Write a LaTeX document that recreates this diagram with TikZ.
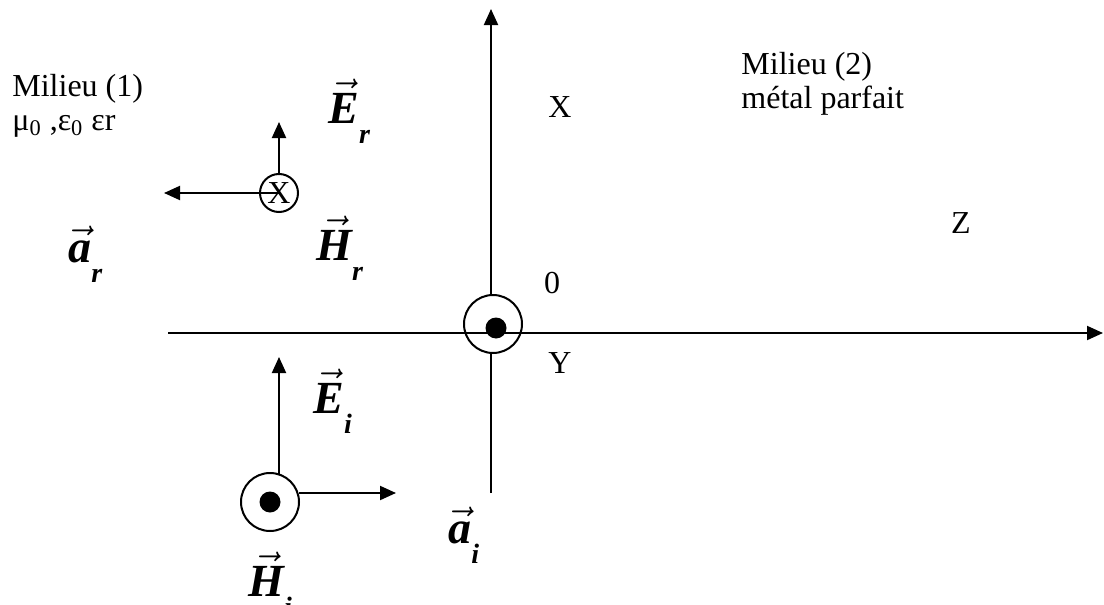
\documentclass[tikz,border=0pt]{standalone}
\usepackage{amsmath}
\usepackage{fontspec}
\setmainfont{Liberation Serif}
\usetikzlibrary{arrows.meta}

% vecteur en gras italique avec indice
\newcommand{\champ}[2]{$\vec{\hbox{#1}}$\raisebox{-10pt}{\fontsize{14}{14}\selectfont #2}}

\begin{document}
\begin{tikzpicture}[
  x=0.5pt, y=-0.5pt,
  fl/.style={line width=1pt, -{Triangle[length=8pt, width=7pt]}},
  trait/.style={line width=1pt},
  txt/.style={font=\fontsize{16}{18}\selectfont, inner sep=0pt},
  vlab/.style={font=\fontsize{23}{25}\selectfont\bfseries\itshape, inner sep=0pt, anchor=base west},
  anneau/.style={circle, draw, line width=1pt, inner sep=0pt},
  point/.style={circle, fill, inner sep=0pt, minimum size=10.5pt},
]
\useasboundingbox (0,0) rectangle (1104,605);

% --- Axes ---
\node[anneau, minimum size=29pt] (o) at (493,324) {};
\node[point] (od) at (496,328) {};
\coordinate (zg) at (168,333);
\coordinate (zd) at (1103,333);
\coordinate (xb) at (491,493);
\coordinate (xh) at (491,9);
\draw[fl] (zg) -- (zd);
\draw[trait] (xb) -- (xb |- o.south);
\draw[fl] (xb |- o.north) -- (xh);

\node[txt, anchor=base] (lx) at (560,117) {X};
\node[txt, anchor=base] (l0) at (552,293) {0};
\node[txt, anchor=base] (ly) at (560,373) {Y};
\node[txt, anchor=base] (lz) at (961,233) {Z};

% --- Milieux ---
\node[txt, anchor=base west] (m1) at (12,97) {Milieu (1)};
\node[txt, anchor=base west] (mu) at (12,130) {μ\textsubscript{0} ,ε\textsubscript{0} εr};
\node[txt, anchor=base west] (m2) at (741,75) {Milieu (2)};
\node[txt, anchor=base west] (mp) at (741,108) {métal parfait};

% --- Onde reflechie ---
\node[anneau, minimum size=19pt, txt] (hr) at (279,193) {X};
\coordinate (er) at (279,122);
\coordinate (ar) at (164,193);
\draw[fl] (hr.north) -- (er);
\draw[fl] (hr.center) -- (ar);

\node[vlab] (ler) at (328,123) {\champ{E}{r}};
\node[vlab] (lhr) at (316,260) {\champ{H}{r}};
\node[vlab] (lar) at (68,262) {\champ{a}{r}};

% --- Onde incidente ---
\node[anneau, minimum size=29pt] (hi) at (270,502) {};
\node[point] (hid) at (270,502) {};
\coordinate (ei0) at (279,474);
\coordinate (ei) at (279,357);
\coordinate (ai0) at (299,493);
\coordinate (ai) at (396,493);
\draw[fl] (ei0) -- (ei);
\draw[fl] (ai0) -- (ai);

\node[vlab] (lei) at (313,413) {\champ{E}{i}};
\node[vlab] (lai) at (448,543) {\champ{a}{i}};
\node[vlab] (lhi) at (248,596) {\champ{H}{i}};

\end{tikzpicture}
\end{document}
